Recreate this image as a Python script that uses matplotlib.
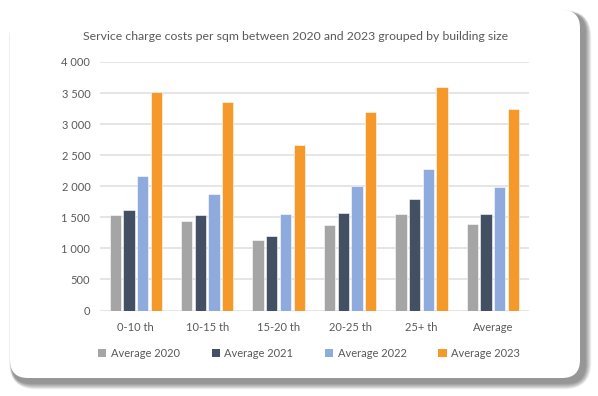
import numpy as np
import matplotlib.pyplot as plt
from matplotlib.patches import FancyBboxPatch, Patch

# Data
categories = ["0-10 th", "10-15 th", "15-20 th", "20-25 th", "25+ th", "Average"]
avg_2020 = [1530, 1440, 1130, 1380, 1550, 1400]
avg_2021 = [1620, 1530, 1200, 1570, 1790, 1550]
avg_2022 = [2160, 1880, 1550, 2010, 2270, 1990]
avg_2023 = [3510, 3360, 2660, 3190, 3600, 3250]
series_names = ["Average 2020", "Average 2021", "Average 2022", "Average 2023"]
y_ticks = [0, 500, 1000, 1500, 2000, 2500, 3000, 3500, 4000]
y_tick_labels = ["0", "500", "1 000", "1 500", "2 000", "2 500", "3 000", "3 500", "4 000"]

colors = ["#A5A5A5", "#435064", "#8FAADC", "#F5992B"]
text_color = "#595959"

plt.rcParams['font.family'] = ['Lato', 'DejaVu Sans']

W, H = 598, 396
fig = plt.figure(figsize=(W / 100, H / 100), dpi=100)
fig.patch.set_facecolor("white")

# card shadow + rounded card (figure pixel coords)
bg = fig.add_axes([0, 0, 1, 1])
bg.set_xlim(0, W)
bg.set_ylim(H, 0)
bg.axis("off")
x0, y0, x1, y1 = 10, 10, 580, 378
for k in range(9, 0, -1):
    sh = FancyBboxPatch((x0 + 2 - k * 0.3, y0 + 3 - k * 0.3), (x1 - x0) + 3 + k * 1.0, (y1 - y0) + 2 + k * 1.0,
                        boxstyle="round,pad=0,rounding_size=%d" % (18 + k),
                        facecolor="black", edgecolor="none", alpha=0.055)
    bg.add_patch(sh)
card = FancyBboxPatch((x0, y0), x1 - x0, y1 - y0, boxstyle="round,pad=0,rounding_size=18",
                      facecolor="white", edgecolor="none")
bg.add_patch(card)

ax = fig.add_axes([100 / W, (H - 310.5) / H, 428.7 / W, 248.5 / H])
ax.set_facecolor("none")

x = np.arange(len(categories))
step = 0.192
width = 0.158
all_series = [avg_2020, avg_2021, avg_2022, avg_2023]
for i, (vals, name, c) in enumerate(zip(all_series, series_names, colors)):
    ax.bar(x + (i - 1.5) * step, vals, width, color=c, edgecolor="#ffffff", linewidth=0.4,
           label=name, zorder=3)

ax.set_xlim(-0.5, len(categories) - 0.5)
ax.set_ylim(0, 4000)
ax.set_yticks(y_ticks)
ax.set_yticklabels(y_tick_labels)
ax.set_xticks(x)
ax.set_xticklabels(categories)
ax.tick_params(length=0, colors=text_color, labelsize=8)
ax.tick_params(axis="y", pad=7)
ax.tick_params(axis="x", pad=8)
ax.grid(axis="y", color="#E3E3E3", linewidth=1.3, zorder=0)
for s in ax.spines.values():
    s.set_visible(False)

fig.text(296 / W, 1 - 37 / H, "Service charge costs per sqm between 2020 and 2023 grouped by building size",
         color=text_color, fontsize=8.8, ha="center", va="center")

handles = [Patch(facecolor=c, edgecolor="none") for c in colors]
ax.legend(handles, series_names, loc="upper center", bbox_to_anchor=(0.4875, -0.11), ncol=4,
          frameon=False, fontsize=8, handlelength=0.75, handleheight=0.75, handletextpad=0.4,
          columnspacing=2.85, labelcolor=text_color)

fig.savefig("out.png", dpi=100)
